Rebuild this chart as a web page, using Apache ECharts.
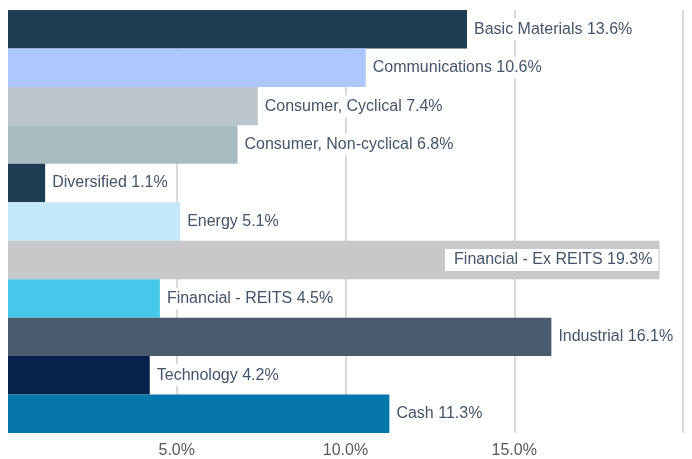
<!DOCTYPE html>
<html>
<head>
<meta charset="utf-8">
<script src="https://cdn.jsdelivr.net/npm/echarts@6/dist/echarts.min.js"></script>
<style>
  html, body { margin: 0; padding: 0; background: #fff; }
  #chart { width: 692px; height: 459px; }
</style>
</head>
<body>
<div id="chart"></div>
<script>
  const sectors = ['Basic Materials', 'Communications', 'Consumer, Cyclical', 'Consumer, Non-cyclical',
    'Diversified', 'Energy', 'Financial - Ex REITS', 'Financial - REITS', 'Industrial', 'Technology', 'Cash']
  const weights = [13.6, 10.6, 7.4, 6.8, 1.1, 5.1, 19.3, 4.5, 16.1, 4.2, 11.3]
  const barColors = ['#1f3d52', '#adc8ff', '#bac4cc', '#a6bcc0', '#1f3d52', '#c4e8f7',
    '#c8c8ca', '#45c8ea', '#4b5b6e', '#07214d', '#0677ab']
  const tickStep = 5

  const chart = echarts.init(document.getElementById('chart'))

  const data = weights.map((v, i) => {
    const item = { value: v, itemStyle: { color: barColors[i] } }
    // the longest bar carries its label inside
    if (v === Math.max(...weights)) {
      item.label = { position: 'insideRight', distance: 1, padding: [3, 6, 3, 9] }
    }
    return item
  })

  chart.setOption({
    animation: false,
    grid: { left: 8, right: 9, top: 10, bottom: 25, containLabel: false },
    xAxis: {
      type: 'value',
      min: 0,
      max: 20,
      interval: tickStep,
      axisLine: { show: false },
      axisTick: { show: false },
      axisLabel: {
        showMinLabel: false,
        showMaxLabel: false,
        color: '#595959',
        fontSize: 16,
        fontFamily: 'Liberation Sans, Arial, sans-serif',
        margin: 10,
        formatter: v => v.toFixed(1) + '%'
      },
      splitLine: { showMinLine: false, lineStyle: { color: '#d9d9d9', width: 2 } }
    },
    yAxis: {
      type: 'category',
      data: sectors,
      inverse: true,
      axisLine: { show: false },
      axisTick: { show: false },
      axisLabel: { show: false },
      splitLine: { show: false }
    },
    series: [{
      type: 'bar',
      data: data,
      barCategoryGap: '0%',
      label: {
        show: true,
        position: 'right',
        distance: 4,
        padding: [3, 3],
        backgroundColor: '#ffffff',
        color: '#44546a',
        fontSize: 16,
        fontFamily: 'Liberation Sans, Arial, sans-serif',
        formatter: p => sectors[p.dataIndex] + ' ' + p.value.toFixed(1) + '%'
      }
    }]
  })
</script>
</body>
</html>
